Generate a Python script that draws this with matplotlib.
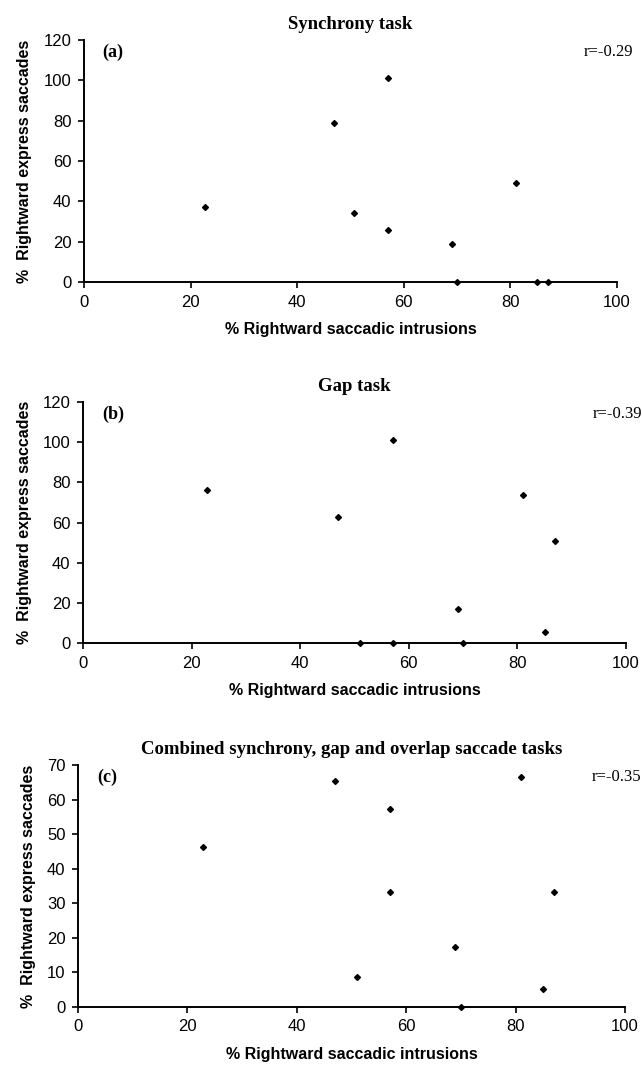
import matplotlib
matplotlib.use("Agg")
import matplotlib.pyplot as plt

# % rightward saccadic intrusions (x) vs % rightward express saccades (y)
sync_x = [22.8, 47, 50.6, 57, 57, 69, 70, 81, 85, 87]
sync_y = [37, 79, 34, 101, 26, 19, 0, 49, 0, 0]

gap_x = [22.8, 47, 51, 57, 57, 69, 70, 81, 85, 87]
gap_y = [76, 63, 0, 101, 0, 17, 0, 73.5, 5.5, 51]

comb_x = [22.8, 47, 51, 57, 57, 69, 70, 81, 85, 87]
comb_y = [46.4, 65.5, 8.7, 57.2, 33.3, 17.3, 0, 66.4, 5.3, 33.3]

titles = ["Synchrony task", "Gap task",
          "Combined synchrony, gap and overlap saccade tasks"]
tags = ["(a)", "(b)", "(c)"]
r_labels = ["r=-0.29", "r=-0.39", "r=-0.35"]
y_max = [120, 120, 70]
y_step = [20, 20, 10]
x_ticks = [0, 20, 40, 60, 80, 100]

series = [(sync_x, sync_y), (gap_x, gap_y), (comb_x, comb_y)]
# axes rectangles in figure fractions (left, bottom, width, height)
rects = [(0.1308, 0.7362, 0.8302, 0.2264),
         (0.1293, 0.3985, 0.8458, 0.2254),
         (0.1215, 0.0580, 0.8520, 0.2264)]

fig = plt.figure(figsize=(6.42, 10.69), dpi=100)

for i in range(3):
    ax = fig.add_axes(rects[i])
    xs, ys = series[i]
    ax.plot(xs, ys, linestyle="none", marker="D", markersize=3,
            color="black", clip_on=False)
    ax.set_xlim(0, 100)
    ax.set_ylim(0, y_max[i])
    ax.set_xticks(x_ticks)
    ax.set_yticks(range(0, y_max[i] + 1, y_step[i]))
    for s in ["top", "right"]:
        ax.spines[s].set_visible(False)
    for s in ["left", "bottom"]:
        ax.spines[s].set_linewidth(1.4)
    ax.tick_params(direction="out", length=4, width=1.2, pad=5,
                   labelsize=12)
    for lab in ax.get_xticklabels() + ax.get_yticklabels():
        lab.set_fontfamily("Liberation Sans")
    ax.set_xlabel("% Rightward saccadic intrusions", fontsize=11.5,
                  fontweight="bold", family="Liberation Sans", labelpad=9)
    ax.set_ylabel("%  Rightward express saccades", fontsize=11.5,
                  fontweight="bold", family="Liberation Sans", labelpad=8)
    ax.set_title(titles[i], fontsize=13.5, fontweight="bold",
                 family="Liberation Serif", pad=8)
    ax.text(0.035, 0.95, tags[i], transform=ax.transAxes, fontsize=13,
            fontweight="bold", family="Liberation Serif", va="center")
    ax.text(1.03, 0.95, r_labels[i], transform=ax.transAxes, fontsize=12,
            family="Liberation Serif", va="center", ha="right")

fig.savefig("out.png", dpi=100)
